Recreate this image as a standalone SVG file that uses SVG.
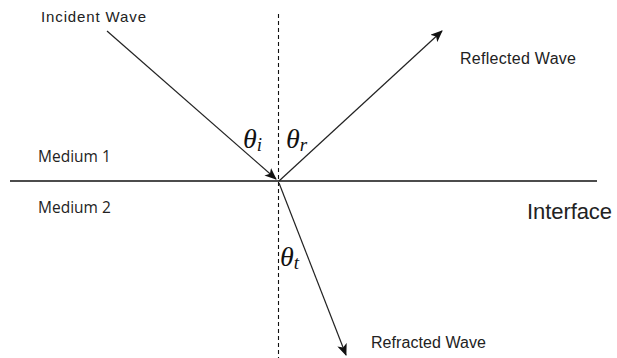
<svg xmlns="http://www.w3.org/2000/svg" width="617" height="358" viewBox="0 0 617 358">
<style>
.lbl{font-family:"Liberation Sans",Arial,sans-serif;fill:#222}
.med{font-family:"Open Sans","Noto Sans",sans-serif;font-size:15.5px;fill:#222}
.math{font-family:"Liberation Serif","Times New Roman",serif;font-style:italic;font-size:28px;fill:#111}
.sub{font-size:19px}
.ray{stroke:#222;stroke-width:1.2;fill:none}
</style>
<defs>
<marker id="ah" markerWidth="14" markerHeight="10" refX="11" refY="5" orient="auto" markerUnits="userSpaceOnUse">
<path d="M0,0 L12,5 L0,10 L3,5 Z" fill="#111"/>
</marker>
</defs>
<rect width="617" height="358" fill="#fff"/>
<g id="connectors">
<line id="normal" x1="278.5" y1="14" x2="278.5" y2="358" stroke="#111" stroke-width="1.1" stroke-dasharray="4,3"/>
<line id="interface-line" x1="10" y1="181" x2="597" y2="181" stroke="#111" stroke-width="1.5"/>
<line id="incident" class="ray" x1="107" y1="31" x2="276" y2="179" marker-end="url(#ah)"/>
<line id="reflected" class="ray" x1="279" y1="181" x2="442" y2="31" marker-end="url(#ah)"/>
<line id="refracted" class="ray" x1="279" y1="183" x2="346" y2="355" marker-end="url(#ah)"/>
</g>
<g id="incident-label"><text class="lbl" x="41" y="22" font-size="15" textLength="105">Incident Wave</text></g>
<g id="reflected-label"><text class="lbl" x="460" y="64" font-size="16" textLength="116">Reflected Wave</text></g>
<g id="refracted-label"><text class="lbl" x="371" y="348" font-size="16" textLength="115">Refracted Wave</text></g>
<g id="interface-label"><text class="lbl" x="527" y="219" font-size="22" textLength="85">Interface</text></g>
<g id="medium1"><text class="med" x="38" y="162">Medium 1</text></g>
<g id="medium2"><text class="med" x="38" y="213">Medium 2</text></g>
<g id="theta-i"><text class="math" x="243" y="148">θ<tspan class="sub" dy="3">i</tspan></text></g>
<g id="theta-r"><text class="math" x="286" y="148">θ<tspan class="sub" dy="3">r</tspan></text></g>
<g id="theta-t"><text class="math" x="280" y="266">θ<tspan class="sub" dy="3">t</tspan></text></g>
</svg>
